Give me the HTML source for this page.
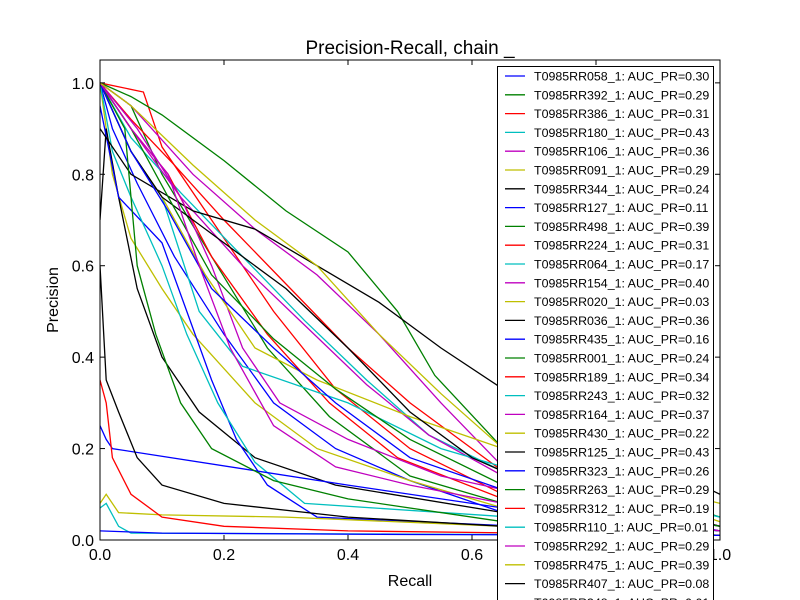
<!DOCTYPE html>
<html><head><meta charset="utf-8"><style>
html,body{margin:0;padding:0;background:#fff;}
svg{display:block;font-family:"Liberation Sans","DejaVu Sans",sans-serif;}
</style></head><body>
<svg id="chart" width="800" height="600" viewBox="0 0 800 600">
<rect width="800" height="600" fill="#fff"/>
<defs><clipPath id="pc"><rect x="100" y="60" width="620" height="480"/></clipPath></defs>
<text x="410" y="54" font-size="19" text-anchor="middle">Precision-Recall, chain _</text>
<g id="series" clip-path="url(#pc)"></g>
<rect x="100" y="60" width="620" height="480" fill="none" stroke="#000" stroke-width="1"/>
<g id="ticks"></g>
<text x="410" y="586" font-size="16" text-anchor="middle">Recall</text>
<text x="58" y="300" font-size="16" text-anchor="middle" transform="rotate(-90 58 300)">Precision</text>
<g id="legend"></g>
</svg>
<script>
const names = ["T0985RR058_1","T0985RR392_1","T0985RR386_1","T0985RR180_1","T0985RR106_1","T0985RR091_1","T0985RR344_1","T0985RR127_1","T0985RR498_1","T0985RR224_1","T0985RR064_1","T0985RR154_1","T0985RR020_1","T0985RR036_1","T0985RR435_1","T0985RR001_1","T0985RR189_1","T0985RR243_1","T0985RR164_1","T0985RR430_1","T0985RR125_1","T0985RR323_1","T0985RR263_1","T0985RR312_1","T0985RR110_1","T0985RR292_1","T0985RR475_1","T0985RR407_1","T0985RR348_1"];
const aucs = ["0.30","0.29","0.31","0.43","0.36","0.29","0.24","0.11","0.39","0.31","0.17","0.40","0.03","0.36","0.16","0.24","0.34","0.32","0.37","0.22","0.43","0.26","0.29","0.19","0.01","0.29","0.39","0.08","0.01"];
const colorCycle = ["#0000ff","#008000","#ff0000","#00bfbf","#bf00bf","#bfbf00","#000000"];
const xTicks = [0,0.2,0.4,0.6,0.8,1.0];
const xTickLabels = ["0.0","0.2","0.4","0.6","0.8","1.0"];
const yTicks = [0,0.2,0.4,0.6,0.8,1.0];
const yTickLabels = ["0.0","0.2","0.4","0.6","0.8","1.0"];
const s0=[[0,1],[.02,.9],[.06,.78],[.12,.62],[.2,.45],[.28,.3],[.38,.2],[.5,.13],[.65,.06],[1,.02]];
const s1=[[0,1],[.05,.95],[.1,.8],[.18,.62],[.27,.42],[.37,.27],[.5,.14],[.65,.08],[1,.02]];
const s2=[[0,1],[.07,.98],[.1,.86],[.18,.7],[.28,.5],[.38,.33],[.5,.2],[.65,.1],[1,.02]];
const s3=[[0,1],[.05,.88],[.13,.76],[.23,.62],[.33,.48],[.43,.35],[.53,.23],[.65,.15],[1,.03]];
const s4=[[0,1],[.05,.9],[.13,.75],[.23,.6],[.33,.47],[.43,.34],[.53,.23],[.65,.14],[1,.03]];
const s5=[[0,1],[.02,.8],[.05,.66],[.1,.55],[.15,.45],[.25,.3],[.35,.2],[.5,.13],[.65,.07],[1,.02]];
const s6=[[0,.7],[.01,.9],[.03,.75],[.06,.55],[.1,.4],[.16,.28],[.25,.18],[.38,.12],[.65,.06],[1,.02]];
const s7=[[0,.95],[.03,.75],[.1,.65],[.14,.5],[.18,.35],[.22,.22],[.27,.12],[.35,.05],[1,.01]];
const s8=[[0,1],[.05,.97],[.1,.93],[.2,.83],[.3,.72],[.4,.63],[.48,.5],[.54,.36],[.65,.2],[1,.05]];
const s9=[[0,1],[.05,.92],[.12,.82],[.2,.7],[.3,.56],[.4,.42],[.5,.3],[.6,.2],[.65,.15],[1,.03]];
const s10=[[0,1],[.02,.85],[.05,.75],[.1,.6],[.14,.45],[.19,.3],[.25,.17],[.33,.08],[1,.02]];
const s11=[[0,1],[.05,.95],[.15,.8],[.25,.68],[.35,.58],[.45,.45],[.55,.3],[.65,.16],[1,.03]];
const s12=[[0,.08],[.01,.1],[.03,.06],[.1,.055],[.3,.05],[.65,.03],[1,.01]];
const s13=[[0,.9],[.05,.8],[.15,.72],[.25,.68],[.35,.6],[.45,.52],[.55,.42],[.65,.33],[1,.1]];
const s14=[[0,.25],[.01,.22],[.02,.2],[.4,.12],[.65,.07],[1,.02]];
const s15=[[0,1],[.04,.9],[.06,.6],[.09,.45],[.13,.3],[.18,.2],[.28,.13],[.4,.09],[.65,.04],[1,.01]];
const s16=[[0,1],[.05,.9],[.11,.8],[.18,.62],[.27,.45],[.37,.3],[.48,.18],[.65,.09],[1,.02]];
const s17=[[0,1],[.05,.85],[.1,.75],[.16,.5],[.23,.38],[.4,.3],[.55,.2],[.65,.16],[1,.05]];
const s18=[[0,1],[.06,.9],[.13,.75],[.18,.6],[.23,.42],[.29,.3],[.4,.22],[.55,.14],[.65,.11],[1,.03]];
const s19=[[0,1],[.05,.85],[.1,.75],[.17,.58],[.25,.42],[.35,.35],[.5,.27],[.65,.2],[1,.08]];
const s20=[[0,1],[.05,.85],[.1,.75],[.2,.65],[.3,.55],[.4,.42],[.5,.28],[.6,.18],[.65,.15],[1,.03]];
const s21=[[0,1],[.05,.85],[.11,.72],[.18,.55],[.28,.42],[.38,.3],[.5,.18],[.65,.11],[1,.02]];
const s22=[[0,1],[.05,.9],[.11,.75],[.18,.58],[.28,.44],[.38,.33],[.5,.22],[.65,.12],[1,.03]];
const s23=[[0,.35],[.01,.3],[.02,.18],[.05,.1],[.1,.05],[.2,.03],[.4,.02],[1,.01]];
const s24=[[0,.07],[.01,.08],[.03,.03],[.05,.015],[1,.01]];
const s25=[[0,1],[.05,.9],[.11,.8],[.16,.6],[.21,.42],[.28,.25],[.38,.16],[.5,.12],[.65,.08],[1,.02]];
const s26=[[0,1],[.05,.95],[.15,.82],[.25,.7],[.35,.6],[.45,.45],[.55,.32],[.65,.2],[1,.04]];
const s27=[[0,.6],[.01,.35],[.03,.28],[.06,.18],[.1,.12],[.2,.08],[.4,.05],[.65,.03],[1,.01]];
const s28=[[0,.02],[.1,.015],[.5,.012],[1,.01]];
const seriesData=[s0,s1,s2,s3,s4,s5,s6,s7,s8,s9,s10,s11,s12,s13,s14,s15,s16,s17,s18,s19,s20,s21,s22,s23,s24,s25,s26,s27,s28];

const NS="http://www.w3.org/2000/svg";
const X0=100,X1=720,Y0=540,Y1=60,YMAX=1.05;
function xs(v){return X0+v*(X1-X0);}
function ys(v){return Y0-v/YMAX*(Y0-Y1);}
function mk(tag,attrs,parent){const e=document.createElementNS(NS,tag);for(const k in attrs)e.setAttribute(k,attrs[k]);parent.appendChild(e);return e;}

const sg=document.getElementById('series');
seriesData.forEach((pts,i)=>{
  const d=pts.map((p,j)=>(j?'L':'M')+xs(p[0]).toFixed(1)+' '+ys(p[1]).toFixed(1)).join(' ');
  const p=mk('path',{d:d,fill:'none',stroke:colorCycle[i%7],'stroke-width':1.3},sg);
  
  
});

const tg=document.getElementById('ticks');
xTicks.forEach((v,i)=>{
  const x=xs(v);
  mk('line',{x1:x,y1:Y0,x2:x,y2:Y0-5,stroke:'#000'},tg);
  mk('line',{x1:x,y1:Y1,x2:x,y2:Y1+5,stroke:'#000'},tg);
  const t=mk('text',{x:x,y:Y0+20,'font-size':16,'text-anchor':'middle'},tg);
  t.textContent=xTickLabels[i];
  
  
});
yTicks.forEach((v,i)=>{
  const y=ys(v);
  mk('line',{x1:X0,y1:y,x2:X0+5,y2:y,stroke:'#000'},tg);
  mk('line',{x1:X1,y1:y,x2:X1-5,y2:y,stroke:'#000'},tg);
  const t=mk('text',{x:X0-6,y:y+6,'font-size':16,'text-anchor':'end'},tg);
  t.textContent=yTickLabels[i];
  
  
});

const lg=document.getElementById('legend');
mk('rect',{x:497.5,y:66.5,width:216,height:560,fill:'#fff',stroke:'#000','stroke-width':1},lg);
names.forEach((n,i)=>{
  const y=76+i*18.8;
  const g=mk('g',{},lg);
  
  
  mk('line',{x1:505,y1:y,x2:525,y2:y,stroke:colorCycle[i%7],'stroke-width':1.3},g);
  const t=mk('text',{x:534,y:y+4.5,'font-size':12.4},g);
  t.textContent=n+': AUC_PR='+aucs[i];
});
</script>
</body></html>
